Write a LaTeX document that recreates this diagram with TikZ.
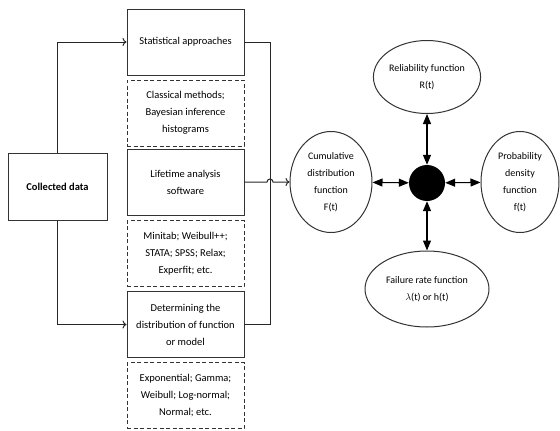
\documentclass[tikz,border=0pt]{standalone}
\usepackage{fontspec}
\setmainfont{Carlito}
\usetikzlibrary{shapes.geometric,arrows.meta}

\tikzset{
  box/.style={draw=black!80, line width=1pt, align=center, inner sep=2pt,
    minimum width=117pt, minimum height=66pt,
    font=\fontsize{10.5}{17}\selectfont},
  solidbox/.style={box},
  dashbox/.style={box, dash pattern=on 4pt off 2.5pt},
  oval/.style={draw=black!80, line width=1pt, ellipse, align=center, inner sep=0pt,
    font=\fontsize{10}{17}\selectfont},
  link/.style={draw=black!85, line width=1pt},
  feed/.style={link, -{To[length=4pt,width=8pt]}},
  both/.style={draw=black, line width=1.1pt,
    {Triangle[length=10pt,width=8pt]}-{Triangle[length=10pt,width=8pt]}}
}

\begin{document}
\begin{tikzpicture}[x=1pt,y=-1pt]
    % Frame
    \useasboundingbox (0,0) rectangle (560,431);
    \def\colX{185.5}
    \def\busX{270}

    % Input
    \node[solidbox, minimum width=99pt, minimum height=67pt] (data) at (57.5,186.5)
      {\textbf{Collected data}};

    % Middle column
    \node[solidbox] (stat) at (\colX,42) {Statistical approaches};
    \node[dashbox] (classic) at (\colX,113) {Classical methods;\\Bayesian inference\\histograms};
    \node[solidbox] (life) at (\colX,182) {Lifetime analysis\\software};
    \node[dashbox] (tools) at (\colX,253.5) {Minitab; Weibull++;\\STATA; SPSS; Relax;\\Experfit; etc.};
    \node[solidbox] (model) at (\colX,324.5) {Determining the\\distribution of function\\or model};
    \node[dashbox] (dists) at (\colX,395.5) {Exponential; Gamma;\\Weibull; Log-normal;\\Normal; etc.};

    % Functions
    \node[circle, fill=black, minimum size=36pt, inner sep=0pt] (hub) at (427,183) {};
    \node[oval, minimum width=96pt, minimum height=73pt] (rel) at (427,77)
      {Reliability function\\R(t)};
    \node[oval, minimum width=82pt, minimum height=101pt] (cdf) at (331,182)
      {Cumulative\\distribution\\function\\F(t)};
    \node[oval, minimum width=78pt, minimum height=101pt] (pdf) at (520,182)
      {Probability\\density\\function\\f(t)};
    \node[oval, minimum width=124pt, minimum height=76pt] (fail) at (427,289)
      {Failure rate function\\$\lambda$(t) or h(t)};

    % Left connectors
    \draw[feed] (data.north) |- (stat.west);
    \draw[feed] (data.south) |- (model.west);

    % Right bus
    \coordinate (busTop) at (\busX,42);
    \draw[link] (stat.east) -- (busTop) |- (model.east);

    % Jump over the bus
    \coordinate (hop) at (\busX-3,182);
    \draw[feed] (life.east) -- (hop) arc[start angle=180, end angle=360, radius=3] -- (cdf.west);

    % Hub arrows
    \draw[both] (rel) -- (hub);
    \draw[both] (fail) -- (hub);
    \draw[both] (cdf) -- (hub);
    \draw[both] (pdf) -- (hub);
\end{tikzpicture}
\end{document}
